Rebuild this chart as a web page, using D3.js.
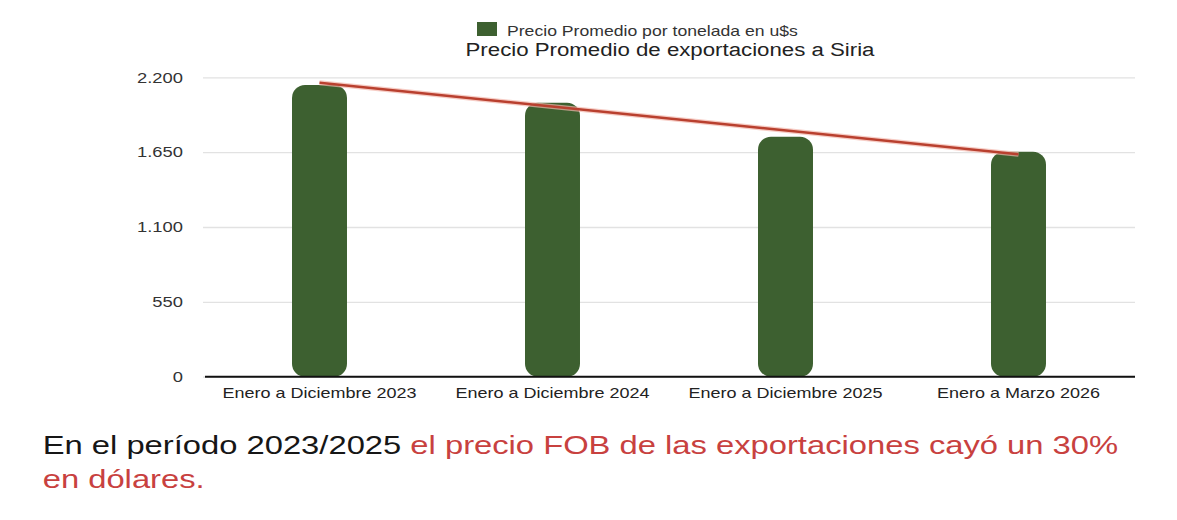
<!DOCTYPE html>
<html>
<head>
<meta charset="utf-8">
<script src="https://cdn.jsdelivr.net/npm/d3@7"></script>
<style>
  body { margin: 0; background: #fff; }
  text { font-family: "Liberation Sans", Arial, sans-serif; }
</style>
</head>
<body>
<svg id="chart" width="1177" height="520"></svg>
<script>
// Data
const categories = ["Enero a Diciembre 2023", "Enero a Diciembre 2024", "Enero a Diciembre 2025", "Enero a Marzo 2026"];
const precios = [2143, 2013, 1764, 1653];
const tendencia = [2160, 1634]; // trend line at first and last category
const yTicks = [0, 550, 1100, 1650, 2200];
const serieNombre = "Precio Promedio por tonelada en u$s";
const titulo = "Precio Promedio de exportaciones a Siria";

// the source picture is stretched sideways, so all text is too
const sx = 1.25;

const svg = d3.select("#chart");
const plotLeft = 203, plotRight = 1135, plotTop = 77.3, plotBottom = 376.7;

const x = d3.scaleBand()
  .domain(categories)
  .range([plotLeft, plotRight])
  .paddingInner(0.764)
  .paddingOuter(0.382);

const y = d3.scaleLinear()
  .domain([0, 2200])
  .range([plotBottom, plotTop]);

const fmt = d3.formatLocale({ decimal: ",", thousands: ".", grouping: [3], currency: ["$", ""] }).format(",d");

// gridlines + y labels
const yAxis = svg.append("g")
  .attr("transform", `translate(${plotLeft},0)`)
  .call(d3.axisLeft(y).tickValues(yTicks).tickFormat(fmt).tickSize(-(plotRight - plotLeft)).tickPadding(0));
yAxis.select(".domain").remove();
yAxis.selectAll(".tick line").attr("stroke", "#e2e2e2").attr("stroke-width", 1.3);
yAxis.selectAll(".tick text")
  .attr("x", -20 / sx)
  .attr("transform", `scale(${sx},1)`)
  .attr("fill", "#333")
  .style("font-size", "14.7px");

// bars
svg.append("g").selectAll("rect")
  .data(precios)
  .join("rect")
  .attr("x", (d, i) => x(categories[i]))
  .attr("y", d => y(d))
  .attr("width", x.bandwidth())
  .attr("height", d => y(0) - y(d))
  .attr("rx", 13)
  .attr("ry", 13)
  .attr("fill", "#3d6030");

// x axis
const xAxis = svg.append("g")
  .attr("transform", `translate(0,${plotBottom})`)
  .call(d3.axisBottom(x).tickSize(0));
xAxis.select(".domain").remove();
xAxis.append("line")
  .attr("x1", plotLeft + 2).attr("x2", plotRight)
  .attr("stroke", "#111").attr("stroke-width", 2);
xAxis.selectAll(".tick text")
  .attr("y", 21.5).attr("dy", null)
  .attr("transform", `scale(${sx},1)`)
  .attr("fill", "#222")
  .style("font-size", "14.4px");

// trend line
const tx = [x(categories[0]) + x.bandwidth() / 2, x(categories[categories.length - 1]) + x.bandwidth() / 2];
const line = d3.line().x((d, i) => tx[i]).y(d => y(d));
svg.append("path")
  .datum(tendencia)
  .attr("d", line)
  .attr("fill", "none")
  .attr("stroke", "#f2b7ad")
  .attr("stroke-width", 5)
  .attr("opacity", 0.7);
svg.append("path")
  .datum(tendencia)
  .attr("d", line)
  .attr("fill", "none")
  .attr("stroke", "#b9402f")
  .attr("stroke-width", 2.4);

// legend + title
const leg = svg.append("g").attr("transform", "translate(477,0)");
leg.append("rect").attr("x", 0).attr("y", 22).attr("width", 20).attr("height", 14).attr("fill", "#3d6030");
leg.append("text")
  .attr("transform", `translate(30,35.7) scale(${sx},1)`)
  .attr("fill", "#333")
  .style("font-size", "14.1px")
  .text(serieNombre);

const mid = (plotLeft + plotRight) / 2;
svg.append("text")
  .attr("transform", `translate(${mid + 1},56) scale(${sx},1)`)
  .attr("text-anchor", "middle")
  .attr("fill", "#222")
  .style("font-size", "17.8px")
  .text(titulo);

// note under the chart
const note = svg.append("text")
  .attr("transform", `translate(42.7,454) scale(${sx},1)`)
  .style("font-size", "26.2px");
note.append("tspan").attr("fill", "#161616").text("En el período 2023/2025 ");
note.append("tspan").attr("fill", "#c8413f").text("el precio FOB de las exportaciones cayó un 30%");
svg.append("text")
  .attr("transform", `translate(42.7,488) scale(${sx},1)`)
  .style("font-size", "26.2px")
  .attr("fill", "#c8413f")
  .text("en dólares.");
</script>
</body>
</html>
